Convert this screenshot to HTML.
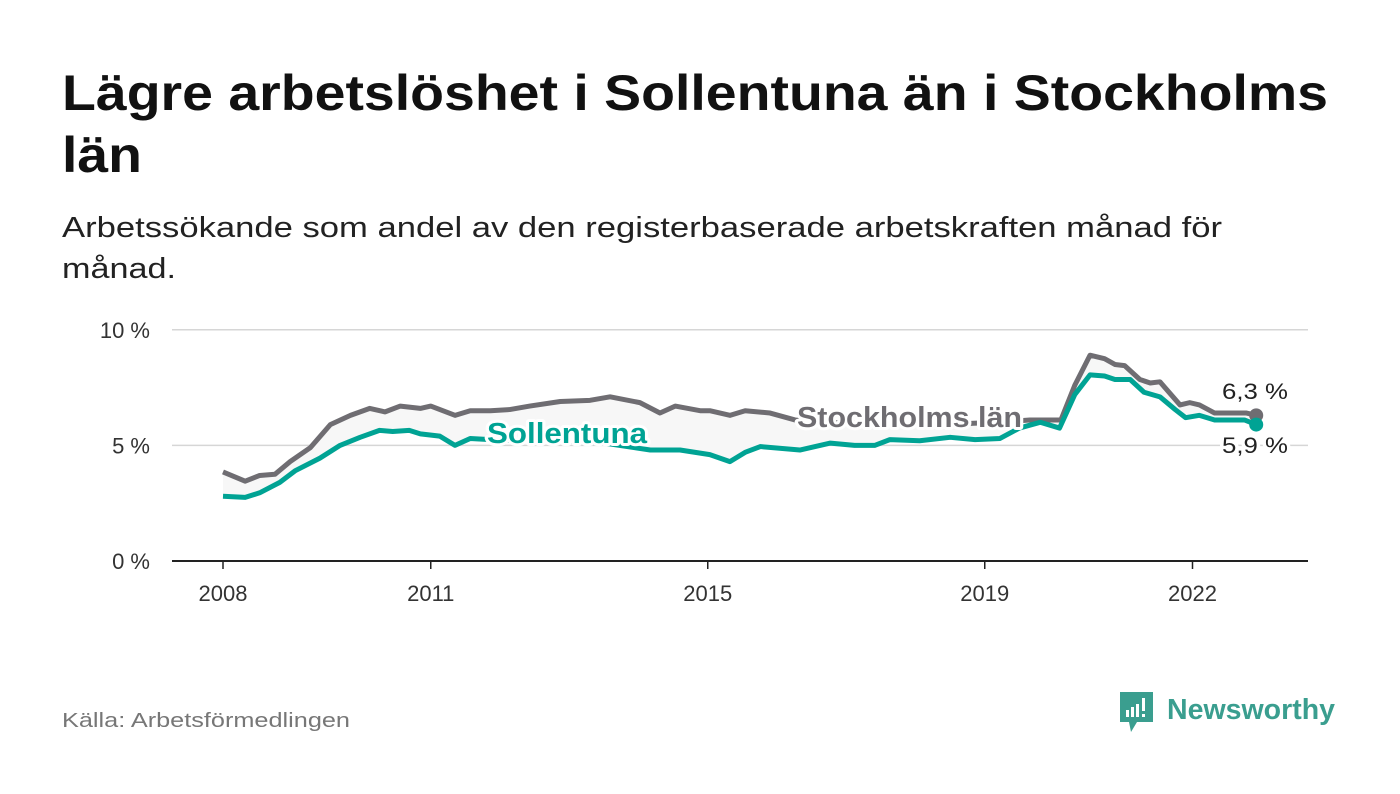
<!DOCTYPE html>
<html><head><meta charset="utf-8"><style>
html,body{margin:0;padding:0;background:#fff;}
svg{display:block;font-family:"Liberation Sans",sans-serif;}
</style></head><body>
<svg id="chart" width="1400" height="794" viewBox="0 0 1400 794">
<text x="62" y="110" font-size="50" font-weight="bold" fill="#111" textLength="1266" lengthAdjust="spacingAndGlyphs">Lägre arbetslöshet i Sollentuna än i Stockholms</text>
<text x="62" y="172" font-size="50" font-weight="bold" fill="#111" textLength="80" lengthAdjust="spacingAndGlyphs">län</text>
<text x="62" y="237" font-size="29" fill="#222" textLength="1160" lengthAdjust="spacingAndGlyphs">Arbetssökande som andel av den registerbaserade arbetskraften månad för</text>
<text x="62" y="278" font-size="29" fill="#222" textLength="114" lengthAdjust="spacingAndGlyphs">månad.</text>
<g id="grid"></g><g id="plot"></g>
<text x="62" y="727" font-size="20" fill="#777" textLength="288" lengthAdjust="spacingAndGlyphs">Källa: Arbetsförmedlingen</text>
<g>
<path d="M1120 692 h33 v30 h-16 l-6 10 l-2 -10 h-9 z" fill="#3a9e8f"/>
<rect x="1126" y="710" width="3" height="7" fill="#fff"/><rect x="1131" y="707" width="3" height="10" fill="#fff"/><rect x="1136" y="704" width="3" height="13" fill="#fff"/><rect x="1142" y="698" width="3" height="13" fill="#fff"/><rect x="1142" y="714" width="3" height="3" fill="#fff"/>
<text x="1167" y="719" font-size="29" font-weight="bold" fill="#3a9e8f" textLength="168" lengthAdjust="spacingAndGlyphs">Newsworthy</text>
</g>
</svg>
<script>
const stockYears=[2008.0,2008.32,2008.53,2008.75,2008.97,2009.26,2009.55,2009.84,2010.12,2010.34,2010.56,2010.85,2011.0,2011.35,2011.57,2011.86,2012.14,2012.43,2012.87,2013.3,2013.59,2014.02,2014.31,2014.53,2014.89,2015.03,2015.32,2015.54,2015.9,2016.26,2016.7,2017.3,2017.8,2018.3,2018.8,2019.2,2019.65,2019.95,2020.1,2020.3,2020.52,2020.73,2020.88,2021.02,2021.24,2021.39,2021.53,2021.82,2021.96,2022.1,2022.32,2022.53,2022.78,2022.92];
const stockValues=[3.85,3.45,3.7,3.75,4.3,4.9,5.9,6.3,6.6,6.45,6.7,6.6,6.7,6.3,6.5,6.5,6.55,6.7,6.9,6.95,7.1,6.85,6.4,6.7,6.5,6.5,6.3,6.5,6.4,6.1,6.0,5.95,5.9,5.9,5.95,6.0,6.1,6.1,6.1,7.6,8.9,8.75,8.5,8.45,7.85,7.7,7.75,6.75,6.85,6.75,6.4,6.4,6.4,6.3];
const sollYears=[2008.0,2008.32,2008.53,2008.82,2009.04,2009.4,2009.69,2009.98,2010.26,2010.45,2010.69,2010.85,2011.13,2011.35,2011.57,2011.86,2012.3,2012.9,2013.5,2014.17,2014.6,2015.03,2015.32,2015.54,2015.76,2016.33,2016.77,2017.12,2017.41,2017.63,2018.06,2018.5,2018.86,2019.22,2019.5,2019.8,2020.08,2020.3,2020.52,2020.73,2020.88,2021.1,2021.3,2021.53,2021.75,2021.9,2022.1,2022.32,2022.75,2022.92];
const sollValues=[2.8,2.75,2.95,3.4,3.9,4.45,5.0,5.35,5.65,5.6,5.65,5.5,5.4,5.0,5.3,5.25,5.2,5.2,5.1,4.8,4.8,4.6,4.3,4.7,4.95,4.8,5.1,5.0,5.0,5.25,5.2,5.35,5.25,5.3,5.75,6.0,5.75,7.2,8.05,8.0,7.85,7.85,7.3,7.1,6.55,6.2,6.3,6.1,6.1,5.9];
const yTicks=[0,5,10];
const yTickLabels=["0 %","5 %","10 %"];
const xTicks=[2008,2011,2015,2019,2022];
const NS="http://www.w3.org/2000/svg";
const X=y=>223+(y-2008)*69.25, Y=v=>561-v*23.12;
const grid=document.getElementById('grid'), plot=document.getElementById('plot');
function mk(tag,attrs,parent){const e=document.createElementNS(NS,tag);for(const k in attrs)e.setAttribute(k,attrs[k]);parent.appendChild(e);return e;}
yTicks.forEach((t,i)=>{
  const l=mk('line',{x1:172,x2:1308,y1:Y(t),y2:Y(t),stroke:t===0?'#222':'#d6d6d6','stroke-width':t===0?2:1.5},grid);
  
  
  const tx=mk('text',{x:150,y:Y(t)+8,'font-size':22,fill:'#333','text-anchor':'end'},grid);
  tx.textContent=yTickLabels[i];
  
  
});
xTicks.forEach(t=>{
  const l=mk('line',{x1:X(t),x2:X(t),y1:561,y2:569,stroke:'#222','stroke-width':1.5},grid);
  
  
  const tx=mk('text',{x:X(t),y:601,'font-size':22,fill:'#333','text-anchor':'middle'},grid);
  tx.textContent=String(t);
  
  
});
const ptsS=stockYears.map((y,i)=>X(y)+','+Y(stockValues[i]));
const ptsT=sollYears.map((y,i)=>X(y)+','+Y(sollValues[i]));
const area=mk('polygon',{points:ptsS.concat(ptsT.slice().reverse()).join(' '),fill:'#f7f7f7'},plot);


const ls=mk('polyline',{points:ptsS.join(' '),fill:'none',stroke:'#6f6d72','stroke-width':5,'stroke-linejoin':'round'},plot);


const lt=mk('polyline',{points:ptsT.join(' '),fill:'none',stroke:'#00a394','stroke-width':5,'stroke-linejoin':'round'},plot);


const n1=stockYears.length-1,n2=sollYears.length-1;
const d1=mk('circle',{cx:X(stockYears[n1]),cy:Y(stockValues[n1]),r:7,fill:'#6f6d72'},plot);


const d2=mk('circle',{cx:X(sollYears[n2]),cy:Y(sollValues[n2]),r:7,fill:'#00a394'},plot);


function lab(txt,x,y,fill,size,bold,name,len){
  const t=mk('text',{x:x,y:y,'font-size':size,fill:fill,'font-weight':bold?'bold':'normal',stroke:'#fff','stroke-width':6,'paint-order':'stroke','stroke-linejoin':'round',textLength:len,lengthAdjust:'spacingAndGlyphs'},plot);
  t.textContent=txt;
  
  
}
lab('Stockholms län',797,427,'#6f6d72',29,true,'stockholm-series-label',225);
lab('Sollentuna',487,443,'#00a394',29,true,'sollentuna-series-label',160);
lab('6,3 %',1222,399,'#222',22,false,'stockholm-end-value',66);
lab('5,9 %',1222,453,'#222',22,false,'sollentuna-end-value',66);
</script>
</body></html>
